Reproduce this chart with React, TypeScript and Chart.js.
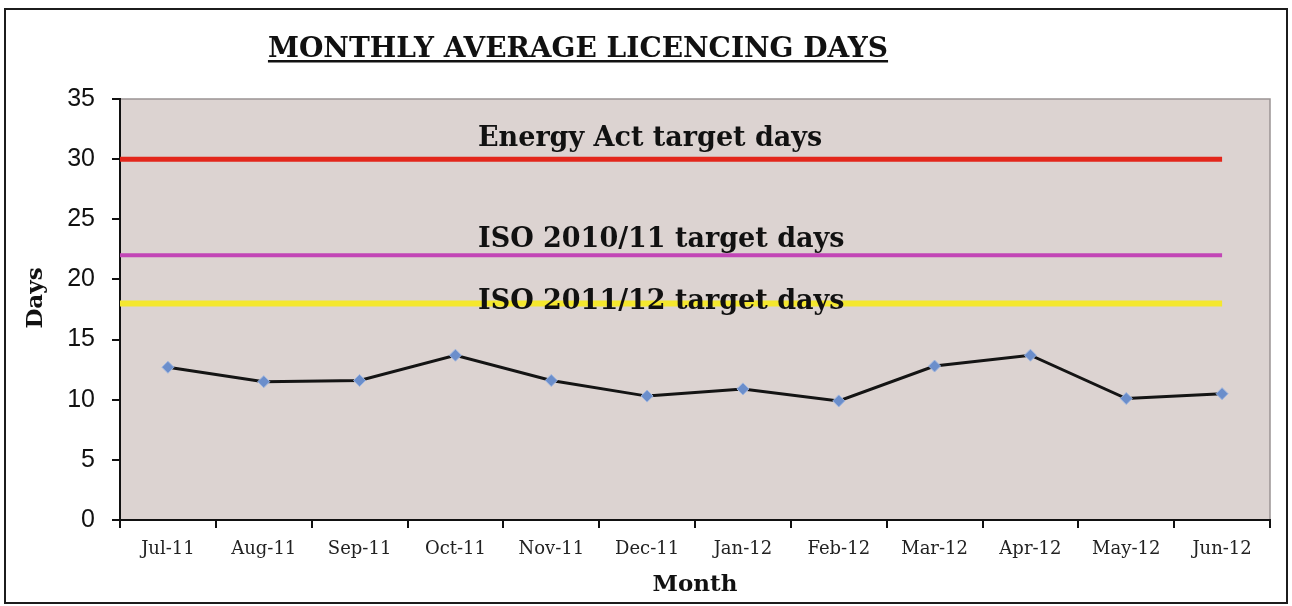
import React, { useEffect, useRef } from 'react';
import { Chart, registerables } from 'chart.js';

Chart.register(...registerables);

const chartTitle = 'MONTHLY AVERAGE LICENCING DAYS';
const yAxisTitle = 'Days';
const xAxisTitle = 'Month';
const months = ['Jul-11', 'Aug-11', 'Sep-11', 'Oct-11', 'Nov-11', 'Dec-11', 'Jan-12', 'Feb-12', 'Mar-12', 'Apr-12', 'May-12', 'Jun-12'];
const avgDays = [12.7, 11.5, 11.6, 13.7, 11.6, 10.3, 10.9, 9.9, 12.8, 13.7, 10.1, 10.5];
const targetNames = ['Energy Act target days', 'ISO 2010/11 target days', 'ISO 2011/12 target days'];
const targetValues = [30, 22, 18];
const targetColors = ['#e3261b', '#c246b6', '#f4e72e'];
const targetWidths = [5, 4, 6];
const targetLabelOffsets = [-13, -8, 6];
const yMin = 0;
const yMax = 35;
const yStep = 5;

const decorPlugin = {
  id: 'decor',
  beforeDraw(chart: any) {
    const { ctx, chartArea } = chart;
    ctx.save();
    ctx.fillStyle = '#ffffff';
    ctx.fillRect(0, 0, chart.width, chart.height);
    ctx.fillStyle = '#dcd3d1';
    ctx.fillRect(chartArea.left, chartArea.top, chartArea.right - chartArea.left, chartArea.bottom - chartArea.top);
    ctx.strokeStyle = '#9a9494';
    ctx.lineWidth = 1.5;
    ctx.beginPath();
    ctx.moveTo(chartArea.left, chartArea.top);
    ctx.lineTo(chartArea.right, chartArea.top);
    ctx.lineTo(chartArea.right, chartArea.bottom);
    ctx.stroke();
    // outer frame
    ctx.strokeStyle = '#1c1c1c';
    ctx.lineWidth = 2;
    ctx.strokeRect(5, 9, 1282, 594);
    // title
    ctx.fillStyle = '#111';
    ctx.font = 'bold 28px "DejaVu Serif"';
    ctx.textAlign = 'center';
    ctx.textBaseline = 'alphabetic';
    const cx = 578;
    ctx.fillText(chartTitle, cx, 57);
    const w = ctx.measureText(chartTitle).width;
    ctx.fillRect(cx - w / 2, 60, w, 2.5);
    // y axis title
    ctx.save();
    ctx.translate(42, 298);
    ctx.rotate(-Math.PI / 2);
    ctx.font = 'bold 23px "DejaVu Serif"';
    ctx.textAlign = 'center';
    ctx.fillText(yAxisTitle, 0, 0);
    ctx.restore();
    ctx.restore();
  },
  beforeDatasetsDraw(chart: any) {
    const { ctx, chartArea, scales } = chart;
    const xEnd = scales.x.getPixelForValue(months.length - 1);
    ctx.save();
    targetValues.forEach((v, i) => {
      const y = scales.y.getPixelForValue(v);
      ctx.strokeStyle = targetColors[i];
      ctx.lineWidth = targetWidths[i];
      ctx.lineCap = 'butt';
      ctx.beginPath();
      ctx.moveTo(chartArea.left, y);
      ctx.lineTo(xEnd, y);
      ctx.stroke();
    });
    ctx.fillStyle = '#111';
    ctx.font = 'bold 27px "DejaVu Serif"';
    ctx.textAlign = 'left';
    ctx.textBaseline = 'alphabetic';
    targetValues.forEach((v, i) => {
      const y = scales.y.getPixelForValue(v);
      ctx.fillText(targetNames[i], chartArea.left + 358, y + targetLabelOffsets[i]);
    });
    ctx.restore();
  },
};

export default function App() {
  const canvasRef = useRef<HTMLCanvasElement | null>(null);

  useEffect(() => {
    if (!canvasRef.current) return;
    const chart = new Chart(canvasRef.current, {
      type: 'line',
      data: {
        labels: months,
        datasets: [
          {
            label: 'Average days',
            data: avgDays,
            borderColor: '#141414',
            borderWidth: 3,
            tension: 0,
            pointStyle: 'rectRot',
            pointRadius: 6,
            pointBackgroundColor: '#6b8ecb',
            pointBorderColor: '#9fb6e0',
            pointBorderWidth: 1,
          },
        ],
      },
      options: {
        animation: false,
        responsive: true,
        maintainAspectRatio: false,
        layout: { padding: { left: 18, top: 99, right: 22, bottom: 5 } },
        plugins: {
          legend: { display: false },
          tooltip: { enabled: false },
          title: { display: false },
        },
        scales: {
          x: {
            offset: true,
            grid: { offset: true, drawOnChartArea: false, tickLength: 8, color: '#111', lineWidth: 2 },
            border: { color: '#111', width: 2 },
            ticks: { color: '#222', font: { family: '"DejaVu Serif"', size: 18 }, padding: 11, maxRotation: 0, autoSkip: false },
            title: { display: true, text: xAxisTitle, color: '#111', font: { family: '"DejaVu Serif"', size: 23, weight: 'bold' }, padding: 2 },
            afterFit: (s: any) => { s.height = 81; },
          },
          y: {
            min: yMin,
            max: yMax,
            ticks: { stepSize: yStep, color: '#111', font: { family: '"Liberation Sans"', size: 25 }, padding: 17 },
            grid: { drawOnChartArea: false, tickLength: 8, color: '#111', lineWidth: 2 },
            border: { color: '#111', width: 2 },
            title: { display: false },
            afterFit: (s: any) => { s.width = 102; },
          },
        },
      },
      plugins: [decorPlugin],
    });
    return () => chart.destroy();
  }, []);

  return (
    <div style={{ position: 'fixed', left: 0, top: 0, width: 1292, height: 606, background: '#fff' }}>
      <canvas ref={canvasRef} />
    </div>
  );
}
